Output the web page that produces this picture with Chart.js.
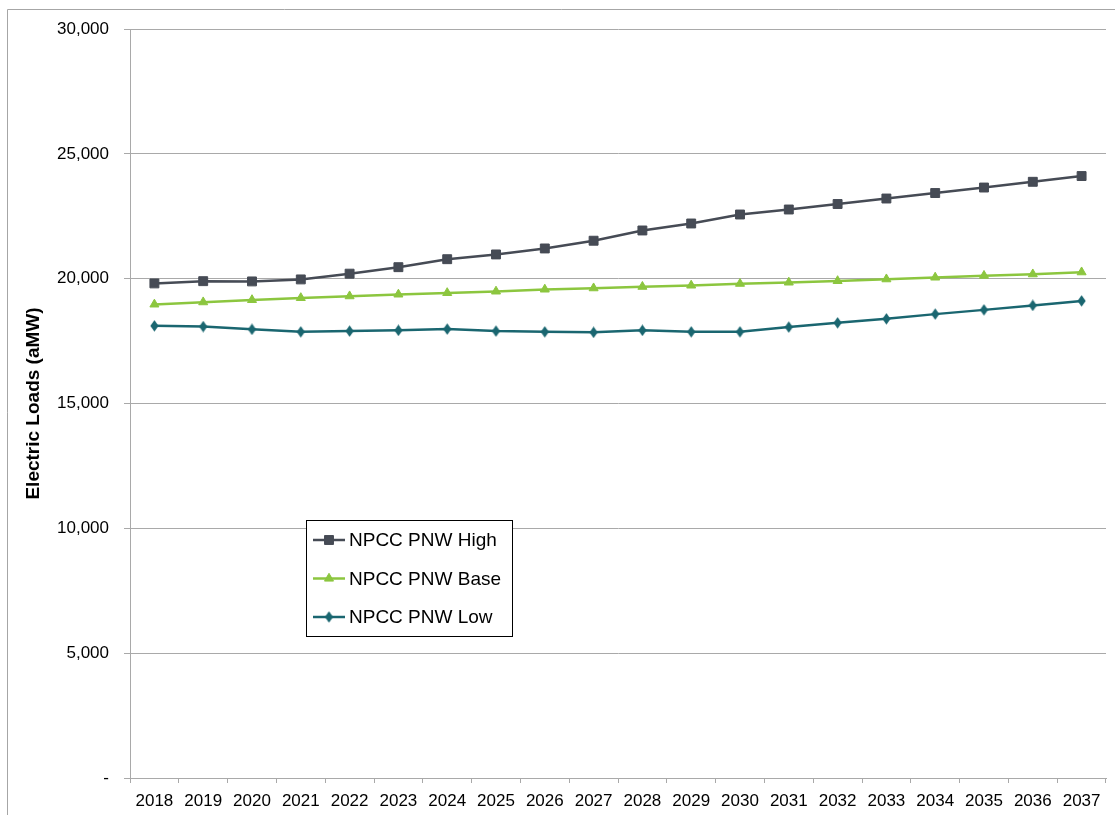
<!DOCTYPE html>
<html>
<head>
<meta charset="utf-8">
<title>NPCC PNW Electric Load Forecasts</title>
<script src="https://cdn.jsdelivr.net/npm/chart.js@4.4.1/dist/chart.umd.min.js"></script>
<style>
  html, body { margin: 0; padding: 0; background: #ffffff; }
  #wrap { width: 1115px; height: 815px; position: relative; }
</style>
</head>
<body>
<div id="wrap"><canvas id="chart" width="1115" height="815"></canvas></div>
<script>
// Forecast years and average electric loads (aMW) for the three NPCC PNW scenarios
const years = ['2018','2019','2020','2021','2022','2023','2024','2025','2026','2027',
               '2028','2029','2030','2031','2032','2033','2034','2035','2036','2037'];

const pnwHigh = [19810, 19900, 19890, 19970, 20200, 20460, 20780, 20970, 21210, 21520,
                 21930, 22210, 22570, 22770, 22990, 23210, 23430, 23650, 23880, 24110];

const pnwBase = [18970, 19060, 19150, 19230, 19300, 19370, 19430, 19490, 19570, 19620,
                 19680, 19730, 19800, 19850, 19910, 19980, 20050, 20120, 20180, 20260];

const pnwLow  = [18110, 18080, 17970, 17870, 17900, 17930, 17980, 17900, 17870, 17850,
                 17930, 17870, 17870, 18060, 18230, 18390, 18580, 18750, 18930, 19110];

const yTicks = [0, 5000, 10000, 15000, 20000, 25000, 30000];

const seriesNames  = ['NPCC PNW High', 'NPCC PNW Base', 'NPCC PNW Low'];
const seriesColors = ['#464b55', '#8cc63f', '#1a6670'];

const FONT = '"Liberation Sans", Arial, sans-serif';
const GRID = '#a9a9a9';

// Tall, narrow diamond marker used by the low scenario
function makeDiamond(color) {
  const c = document.createElement('canvas');
  c.width = 9; c.height = 12;
  const g = c.getContext('2d');
  g.fillStyle = color;
  g.beginPath();
  g.moveTo(4.5, 0.3); g.lineTo(8.6, 6); g.lineTo(4.5, 11.7); g.lineTo(0.4, 6);
  g.closePath();
  g.fill();
  return c;
}
const diamond = makeDiamond(seriesColors[2]);

// Outer frame drawn behind everything
const framePlugin = {
  id: 'frame',
  beforeDraw(chart) {
    const ctx = chart.ctx;
    ctx.save();
    ctx.fillStyle = '#ffffff';
    ctx.fillRect(0, 0, chart.width, chart.height);
    ctx.strokeStyle = '#a6a6a6';
    ctx.lineWidth = 1;
    ctx.beginPath();
    ctx.moveTo(7.5, chart.height);
    ctx.lineTo(7.5, 9.5);
    ctx.lineTo(chart.width, 9.5);
    ctx.stroke();
    ctx.restore();
  }
};

// Boxed legend with line + marker samples, placed inside the plot area
const boxLegendPlugin = {
  id: 'boxLegend',
  afterDraw(chart) {
    const ctx = chart.ctx;
    const x0 = 306.5, y0 = 520.5, w = 206, h = 116;
    ctx.save();
    ctx.fillStyle = '#ffffff';
    ctx.fillRect(x0, y0, w, h);
    ctx.strokeStyle = '#000000';
    ctx.lineWidth = 1;
    ctx.strokeRect(x0, y0, w, h);
    const rows = [540, 578.5, 617];
    chart.data.datasets.forEach((ds, i) => {
      const y = rows[i];
      ctx.strokeStyle = ds.borderColor;
      ctx.lineWidth = 2.5;
      ctx.beginPath();
      ctx.moveTo(313, y);
      ctx.lineTo(345, y);
      ctx.stroke();
      ctx.fillStyle = ds.backgroundColor;
      ctx.strokeStyle = ds.borderColor;
      ctx.lineWidth = 1;
      Chart.helpers.drawPoint(ctx, {
        pointStyle: ds.pointStyle,
        radius: ds.pointRadius,
        borderWidth: 1,
        rotation: 0
      }, 329, y);
      ctx.fillStyle = '#000000';
      ctx.font = '19px ' + FONT;
      ctx.textBaseline = 'middle';
      ctx.textAlign = 'left';
      ctx.fillText(ds.label, 349, y + 1);
    });
    ctx.restore();
  }
};

const ctx = document.getElementById('chart').getContext('2d');
new Chart(ctx, {
  type: 'line',
  data: {
    labels: years,
    datasets: [
      {
        label: seriesNames[0],
        data: pnwHigh,
        borderColor: seriesColors[0],
        backgroundColor: seriesColors[0],
        pointStyle: 'rect',
        pointRadius: 6.3,
        pointBorderWidth: 1,
        borderWidth: 2.5,
        tension: 0
      },
      {
        label: seriesNames[1],
        data: pnwBase,
        borderColor: seriesColors[1],
        backgroundColor: seriesColors[1],
        pointStyle: 'triangle',
        pointRadius: 5.2,
        pointBorderWidth: 1,
        borderWidth: 2.5,
        tension: 0
      },
      {
        label: seriesNames[2],
        data: pnwLow,
        borderColor: seriesColors[2],
        backgroundColor: seriesColors[2],
        pointStyle: diamond,
        pointRadius: 5,
        pointBorderWidth: 1,
        borderWidth: 2.5,
        tension: 0
      }
    ]
  },
  options: {
    responsive: false,
    animation: false,
    events: [],
    layout: { padding: { top: 29, right: 9, left: 0, bottom: 0 } },
    plugins: {
      legend: { display: false },
      tooltip: { enabled: false },
      title: { display: false }
    },
    scales: {
      x: {
        type: 'category',
        offset: true,
        grid: {
          offset: true,
          drawOnChartArea: false,
          drawTicks: true,
          tickLength: 5,
          color: GRID
        },
        border: { color: GRID, width: 1 },
        ticks: {
          color: '#000000',
          font: { family: FONT, size: 17 },
          padding: 8,
          maxRotation: 0,
          autoSkip: false
        },
        afterFit(scale) { scale.height = 37; }
      },
      y: {
        min: 0,
        max: 30000,
        afterBuildTicks(scale) { scale.ticks = yTicks.map(v => ({ value: v })); },
        grid: {
          color: GRID,
          drawTicks: true,
          tickLength: 6,
          tickColor: GRID
        },
        border: { color: GRID, width: 1 },
        ticks: {
          color: '#000000',
          font: { family: FONT, size: 17 },
          padding: 15,
          callback: v => v === 0 ? '-' : v.toLocaleString('en-US')
        },
        title: {
          display: true,
          text: 'Electric Loads (aMW)',
          color: '#000000',
          font: { family: FONT, size: 19, weight: 'bold' },
          padding: { top: 22, bottom: 0 }
        },
        afterFit(scale) { scale.width = 130; }
      }
    }
  },
  plugins: [framePlugin, boxLegendPlugin]
});
</script>
</body>
</html>
